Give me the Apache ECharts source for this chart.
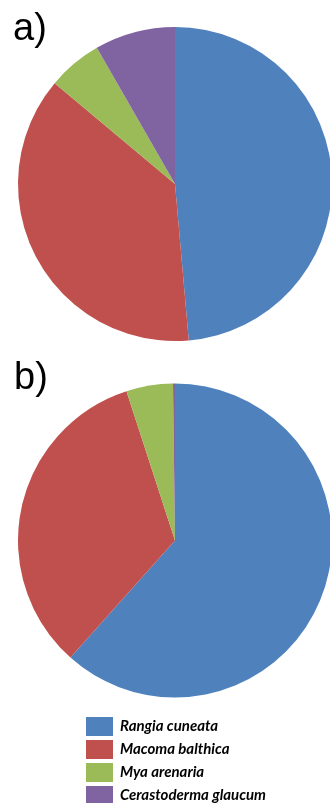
<!DOCTYPE html>
<html>
<head>
<meta charset="utf-8">
<script src="https://cdn.jsdelivr.net/npm/echarts@6/dist/echarts.min.js"></script>
<style>
  html, body { margin: 0; padding: 0; background: #fff; }
  #chart { width: 330px; height: 803px; }
</style>
</head>
<body>
<div id="chart"></div>
<script>
// Species composition (%) for the two panels
const species = ['Rangia cuneata', 'Macoma balthica', 'Mya arenaria', 'Cerastoderma glaucum'];
const panelA = [48.6, 37.5, 5.6, 8.3];
const panelB = [61.6, 33.4, 4.8, 0.2];
const panelLabels = ['a)', 'b)'];
const colors = ['#4F81BD', '#C0504D', '#9BBB59', '#8064A2'];

const toData = vals => species.map((name, i) => ({ name: name, value: vals[i] }));

const chart = echarts.init(document.getElementById('chart'), null, { renderer: 'canvas' });

const pieBase = {
  type: 'pie',
  radius: 157,
  startAngle: 90,
  clockwise: true,
  label: { show: false },
  labelLine: { show: false },
  emphasis: { disabled: true },
  animation: false,
  itemStyle: { borderWidth: 0 }
};

const panelTitle = {
  fontFamily: 'Liberation Sans', fontSize: 38, fontWeight: 'normal', color: '#000'
};

chart.setOption({
  color: colors,
  title: [
    { text: panelLabels[0], left: 13, top: 11, padding: 0, textStyle: panelTitle },
    { text: panelLabels[1], left: 14, top: 360, padding: 0, textStyle: panelTitle }
  ],
  legend: {
    data: species,
    orient: 'vertical',
    left: 86,
    top: 717,
    height: 100,
    padding: 0,
    itemWidth: 27,
    itemHeight: 19,
    itemGap: 4,
    selectedMode: false,
    icon: 'rect',
    textStyle: {
      fontFamily: 'Lato', fontStyle: 'italic', fontWeight: 'bold', fontSize: 15,
      color: '#000', padding: [0, 0, 0, 2]
    }
  },
  series: [
    Object.assign({}, pieBase, { name: 'a', center: [175, 184], data: toData(panelA) }),
    Object.assign({}, pieBase, { name: 'b', center: [175, 540.5], data: toData(panelB) })
  ]
});
</script>
</body>
</html>
